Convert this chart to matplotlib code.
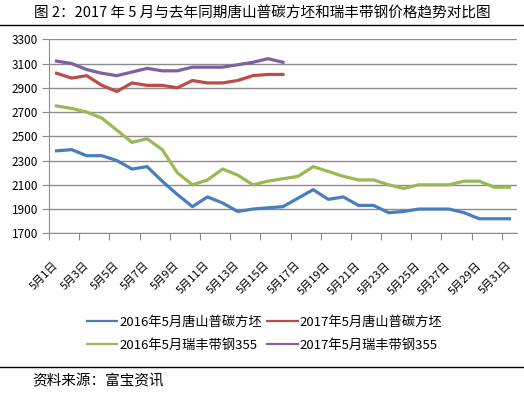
import matplotlib
matplotlib.use('Agg')
import matplotlib.pyplot as plt
from matplotlib.lines import Line2D

plt.rcParams['font.family'] = ['Noto Sans CJK SC', 'DejaVu Sans']

# daily prices, 1-31 May
days = list(range(1, 32))
ts_2016 = [2380, 2390, 2340, 2340, 2300, 2230, 2250, 2130, 2020, 1920,
           2000, 1950, 1880, 1900, 1910, 1920, 1990, 2060, 1980, 2000,
           1930, 1930, 1870, 1880, 1900, 1900, 1900, 1870, 1820, 1820, 1820]
ts_2017 = [3020, 2980, 3000, 2920, 2870, 2940, 2920, 2920, 2900, 2960,
           2940, 2940, 2960, 3000, 3010, 3010]
rf_2016 = [2750, 2730, 2700, 2650, 2550, 2450, 2480, 2390, 2200, 2100,
           2140, 2230, 2180, 2100, 2130, 2150, 2170, 2250, 2210, 2170,
           2140, 2140, 2100, 2070, 2100, 2100, 2100, 2130, 2130, 2080, 2080]
rf_2017 = [3120, 3100, 3050, 3020, 3000, 3030, 3060, 3040, 3040, 3070,
           3070, 3070, 3090, 3110, 3140, 3110]

series_names = ['2016年5月唐山普碳方坯', '2017年5月唐山普碳方坯',
                '2016年5月瑞丰带钢355', '2017年5月瑞丰带钢355']
colors = ['#4A7EBB', '#BE4B48', '#98B954', '#7D60A0']
y_ticks = [1700, 1900, 2100, 2300, 2500, 2700, 2900, 3100, 3300]
x_labels = ['5月%d日' % d for d in days[::2]]

title = '图 2：2017 年 5 月与去年同期唐山普碳方坯和瑞丰带钢价格趋势对比图'
source = '资料来源：富宝资讯'

fig = plt.figure(figsize=(5.24, 3.98), dpi=100)
ax = fig.add_axes([0.0935, 0.4138, 0.8931, 0.4875])

all_series = [ts_2016, ts_2017, rf_2016, rf_2017]
for vals, c in zip(all_series, colors):
    ax.plot(days[:len(vals)], vals, color=c, lw=2.3, solid_joinstyle='round')

ax.set_xlim(0.5, 31.5)
ax.set_ylim(1700, 3300)
ax.set_yticks(y_ticks)
ax.set_yticklabels([str(v) for v in y_ticks], fontsize=8.5)
ax.yaxis.grid(True, color='#8C8C8C', lw=1)
ax.set_axisbelow(True)

# tick marks between categories, labels at every other day
ax.set_xticks([0.5 + 2 * k for k in range(16)])
ax.set_xticklabels([])
ax.set_xticks(days[::2], minor=True)
ax.set_xticklabels(x_labels, minor=True, rotation=45, ha='right', va='center',
                   rotation_mode='anchor', fontsize=8)
ax.tick_params(axis='x', which='minor', length=0, pad=22)
ax.tick_params(axis='x', which='major', length=5, color='#8C8C8C', direction='out')
ax.tick_params(axis='y', length=5, color='#8C8C8C', pad=3)

for s in ['top', 'right']:
    ax.spines[s].set_visible(False)
for s in ['left', 'bottom']:
    ax.spines[s].set_color('#8C8C8C')

# legend fills column by column: reorder so rows read blue/red, green/purple
order = [0, 2, 1, 3]
handles = [Line2D([0], [0], color=colors[i], lw=1.6) for i in order]
fig.legend(handles, [series_names[i] for i in order], loc='center',
           bbox_to_anchor=(0.505, 0.162), ncol=2, frameon=False, fontsize=9.5,
           handlelength=2.3, handletextpad=0.15, columnspacing=0.4,
           labelspacing=0.75)

fig.text(0.5, 0.967, title, ha='center', va='center', fontsize=10.5)
fig.add_artist(Line2D([0, 1], [0.937, 0.937], color='black', lw=1))
fig.add_artist(Line2D([0, 1], [0.078, 0.078], color='black', lw=1))
fig.text(0.061, 0.043, source, ha='left', va='center', fontsize=10.5)

fig.savefig('out.png', dpi=100)
